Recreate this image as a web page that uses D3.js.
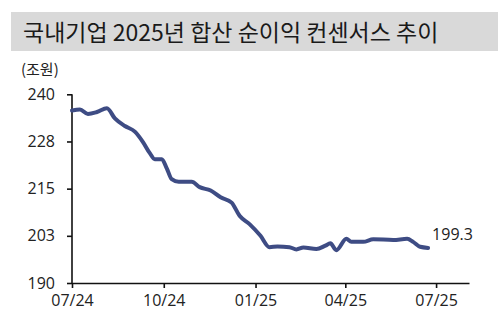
<!DOCTYPE html>
<html><head><meta charset="utf-8">
<script src="https://cdn.jsdelivr.net/npm/d3@7"></script>
<style>
html,body{margin:0;padding:0;background:#fff;}
svg{display:block;}
</style></head>
<body>
<svg id="chart" width="500" height="316"></svg>
<script>
const title = "국내기업 2025년 합산 순이익 컨센서스 추이";
const unitLabel = "(조원)";
const dates = ["2024-07-01","2024-07-09","2024-07-17","2024-07-26","2024-08-05","2024-08-13","2024-08-23","2024-09-02","2024-09-10","2024-09-17","2024-09-22","2024-09-29","2024-10-04","2024-10-09","2024-10-16","2024-10-29","2024-11-06","2024-11-17","2024-11-27","2024-12-08","2024-12-16","2024-12-26","2025-01-06","2025-01-15","2025-01-23","2025-02-04","2025-02-11","2025-02-18","2025-03-03","2025-03-12","2025-03-17","2025-03-23","2025-04-02","2025-04-07","2025-04-19","2025-04-29","2025-05-19","2025-06-02","2025-06-08","2025-06-15","2025-06-23"];
const values = [235.7,236.0,234.8,235.3,236.3,233.6,231.6,230.1,227.4,224.4,222.8,222.8,220.4,217.5,216.8,216.8,215.4,214.5,212.7,211.3,207.8,205.6,202.5,199.5,199.7,199.5,198.9,199.4,199.0,199.9,200.5,198.7,201.7,200.9,200.9,201.6,201.4,201.7,200.9,199.6,199.3];
const yTickValues = [190, 202.5, 215, 227.5, 240];
const yTickLabels = ["190", "203", "215", "228", "240"];
const xTickDates = ["2024-07-01","2024-10-01","2025-01-01","2025-04-01","2025-07-01"];
const xTickLabels = ["07/24","10/24","01/25","04/25","07/25"];
const xDomain = ["2024-07-01","2025-08-03"];
const lastLabel = "199.3";

const parse = d3.utcParse("%Y-%m-%d");
const data = dates.map((d,i)=>({date:parse(d), value:values[i]}));

const svg = d3.select("#chart");
const fontNum = "'Open Sans', 'Noto Sans CJK KR', sans-serif";
const fontKr = "'Noto Sans CJK KR', sans-serif";

// title bar
svg.append("rect").attr("x",11).attr("y",12).attr("width",487).attr("height",39).attr("fill","#d9d9d9");
svg.append("text").attr("x",23).attr("y",41).text(title)
  .attr("font-family",fontKr).attr("font-size",23).attr("font-weight",400).attr("fill","#1a1a1a");

svg.append("text").attr("x",21).attr("y",75).text(unitLabel)
  .attr("font-family",fontKr).attr("font-size",15).attr("fill","#222");

const x = d3.scaleUtc().domain(xDomain.map(parse)).range([72, 469]);
const y = d3.scaleLinear().domain([190, 240]).range([283, 94.3]);

const yAxis = d3.axisLeft(y).tickValues(yTickValues)
  .tickFormat((d,i)=>yTickLabels[i]).tickSize(5).tickSizeOuter(0).tickPadding(12);
const xAxis = d3.axisBottom(x).tickValues(xTickDates.map(parse))
  .tickFormat((d,i)=>xTickLabels[i]).tickSize(5).tickSizeOuter(0).tickPadding(7);

const gy = svg.append("g").attr("transform","translate(72,0)").call(yAxis);
const gx = svg.append("g").attr("transform","translate(0,283)").call(xAxis);
[gx,gy].forEach(g=>{
  g.selectAll("path,line").attr("stroke","#111").attr("stroke-width",1.6);
  g.selectAll("text").attr("font-family",fontNum).attr("font-size",16).attr("fill","#222");
});
gy.select(".domain").attr("d","M0,94.3V283");

const line = d3.line().x(d=>x(d.date)).y(d=>y(d.value)).curve(d3.curveMonotoneX);
svg.append("path").datum(data).attr("d",line)
  .attr("fill","none").attr("stroke","#3e4c84").attr("stroke-width",4)
  .attr("stroke-linejoin","round").attr("stroke-linecap","round");

const last = data[data.length-1];
svg.append("text").attr("x",x(last.date)+4).attr("y",y(last.value)-8).text(lastLabel)
  .attr("font-family",fontNum).attr("font-size",16).attr("fill","#222");
</script>
</body></html>
